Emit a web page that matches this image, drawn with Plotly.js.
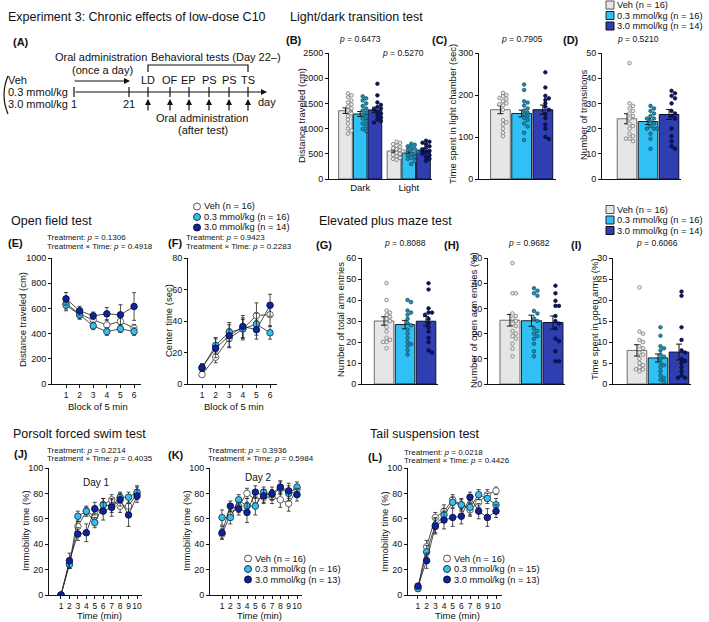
<!DOCTYPE html>
<html>
<head>
<meta charset="utf-8">
<script src="https://cdn.plot.ly/plotly-3.0.1.min.js"></script>
<style>
  html, body { margin: 0; padding: 0; background: #fff; }
  #chart { width: 709px; height: 622px; }
</style>
</head>
<body>
<div id="chart"></div>
<script>
// ---------- data ----------
const groupNames = ['Veh', '0.3 mmol/kg', '3.0 mmol/kg'];
const legendBars = ['Veh (n = 16)', '0.3 mmol/kg (n = 16)', '3.0 mmol/kg (n = 14)'];
const legendOF = ['Veh (n = 16)', '0.3 mmol/kg (n = 16)', '3.0 mmol/kg (n = 14)'];
const legendFS = ['Veh (n = 16)', '0.3 mmol/kg (n = 16)', '3.0 mmol/kg (n = 13)'];
const legendTS = ['Veh (n = 16)', '0.3 mmol/kg (n = 15)', '3.0 mmol/kg (n = 13)'];

// (B) light/dark distance
const ldPhases = ['Dark', 'Light'];
const ldDistDarkMean = [1356, 1290, 1370];
const ldDistDarkSem = [55, 48, 55];
const ldDistLightMean = [556, 515, 572];
const ldDistLightSem = [25, 22, 30];
const ldDarkVeh = [1700, 1660, 1620, 1560, 1520, 1480, 1440, 1400, 1360, 1300, 1250, 1180, 1100, 1000, 960, 900];
const ldDark03 = [1640, 1600, 1560, 1500, 1450, 1400, 1360, 1320, 1280, 1240, 1200, 1150, 1100, 1050, 990, 950];
const ldDark30 = [1890, 1660, 1520, 1470, 1430, 1400, 1380, 1340, 1300, 1260, 1220, 1180, 1150, 1120];
const ldLightVeh = [740, 720, 690, 660, 640, 610, 590, 570, 550, 520, 500, 480, 450, 420, 400, 380];
const ldLight03 = [700, 680, 650, 630, 600, 580, 560, 540, 510, 490, 470, 440, 420, 400, 360, 300];
const ldLight30 = [760, 740, 720, 690, 650, 620, 590, 560, 530, 500, 470, 440, 400, 360];

// (C) time in light chamber
const ldTimeMean = [165, 156, 165];
const ldTimeSem = [9.5, 8, 11];
const ldTimeVeh = [205, 200, 197, 193, 190, 185, 180, 178, 175, 165, 140, 135, 130, 120, 110, 102];
const ldTime03 = [225, 212, 185, 182, 175, 168, 163, 158, 155, 150, 145, 140, 132, 125, 110, 93];
const ldTime30 = [254, 218, 198, 192, 188, 180, 172, 165, 155, 145, 130, 120, 100, 95];

// (D) transitions
const ldTransMean = [23.9, 22.8, 25.6];
const ldTransSem = [2, 1.2, 2];
const ldTransVeh = [46, 30, 29, 28, 27, 26, 25, 24, 22, 21, 20, 18, 17, 16, 15, 16];
const ldTrans03 = [29, 28, 27, 26, 25, 24, 24, 23, 22, 21, 20, 20, 18, 20, 16, 12];
const ldTrans30 = [35, 34, 33, 32, 30, 27, 26, 25, 24, 20, 17, 15, 13, 12];

// (E) open field distance, (F) center time
const blocks = [1, 2, 3, 4, 5, 6];
const ofDistVeh = [640, 554, 509, 469, 496, 443];
const ofDist03 = [626, 549, 461, 416, 438, 416];
const ofDist30 = [676, 581, 541, 557, 549, 615];
const ofDistSemVeh = [45, 35, 30, 40, 45, 30];
const ofDistSem03 = [45, 35, 30, 30, 30, 30];
const ofDistSem30 = [50, 35, 30, 50, 80, 110];
const ofCenterVeh = [6, 17, 29, 35, 43.5, 44];
const ofCenter03 = [10, 24.5, 33, 35, 38, 32.5];
const ofCenter30 = [10.5, 22.7, 30.6, 36.5, 34.5, 50];
const ofCenterSemVeh = [1.5, 3.5, 6, 7, 8, 7];
const ofCenterSem03 = [2, 5, 6, 6, 7, 4];
const ofCenterSem30 = [2.5, 6, 7, 7, 6, 7];

// (G) total arm entries, (H) open arm entries %, (I) time in open arms %
const epTotalMean = [30, 28.3, 29.9];
const epTotalSem = [2, 2, 2.3];
const epTotalVeh = [48, 40, 35, 34, 33, 32, 31, 30, 29, 27, 25, 22, 21, 20, 20, 17];
const epTotal03 = [40, 39, 35, 34, 33, 31, 29, 28, 26, 24, 22, 20, 19, 18, 16, 14];
const epTotal30 = [48, 45, 36, 34, 34, 33, 31, 29, 27, 25, 22, 20, 16, 15];
const epOpenMean = [25.3, 25.1, 24.4];
const epOpenSem = [2.3, 2.2, 2.6];
const epOpenVeh = [48, 36, 36, 28, 27, 26, 25, 24, 23, 21, 20, 19, 18, 16, 14, 11];
const epOpen03 = [38, 37, 36, 35, 29, 28, 26, 25, 22, 21, 20, 19, 18, 16, 13, 11];
const epOpen30 = [39, 36, 33, 31, 31, 27, 25, 24, 22, 18, 17, 13, 9, 9];
const epTimeMean = [8.0, 6.2, 7.6];
const epTimeSem = [1.35, 0.95, 1.9];
const epTimeVeh = [23, 12.5, 12, 10.5, 10, 9, 8.5, 7.5, 7, 6, 5, 4.5, 4, 3.5, 3.5, 3];
const epTime03 = [13.5, 11.5, 9, 8.5, 8, 7, 6.5, 6, 5, 4.5, 4, 3, 2, 1.5, 1, 0.5];
const epTime30 = [22, 21, 13.5, 10.5, 8, 7.5, 6, 5.5, 5, 4, 3, 2, 1.5, 1.5];

// (J) forced swim day 1, (K) day 2, (L) tail suspension
const minutes = [1, 2, 3, 4, 5, 6, 7, 8, 9, 10];
const fs1Veh = [0, 25, 54, 66, 62, 71, 75, 70, 70, 80];
const fs103 = [0, 24, 62, 66, 57, 71, 70, 77, 77, 81];
const fs130 = [0, 27, 48, 49, 68, 66, 69, 75, 63, 78];
const fs1SemVeh = [0, 4, 4, 4, 5, 5, 4, 5, 6, 5];
const fs1Sem03 = [0, 3, 4, 3, 4, 5, 5, 4, 4, 5];
const fs1Sem30 = [0, 6, 5, 7, 5, 7, 7, 5, 9, 5];
const fs2Veh = [48, 63, 70, 80, 75, 77, 77, 75, 72, 83];
const fs203 = [61, 61, 75, 70, 70, 81, 79, 84, 80, 85];
const fs230 = [49, 70, 68, 65, 81, 78, 80, 85, 82, 79];
const fs2SemVeh = [4, 4, 5, 4, 5, 5, 5, 6, 6, 4];
const fs2Sem03 = [6, 5, 4, 6, 7, 4, 4, 5, 6, 4];
const fs2Sem30 = [5, 4, 5, 8, 5, 5, 5, 5, 6, 5];
const tsVeh = [6, 38, 61, 66, 75, 71, 67, 73, 79, 82];
const ts03 = [5, 34, 55, 63, 73, 71, 69, 79, 76, 71];
const ts30 = [7, 27, 54, 59, 61, 62, 77, 66, 61, 66];
const tsSemVeh = [2, 5, 4, 5, 4, 4, 5, 4, 4, 3];
const tsSem03 = [2, 5, 6, 5, 4, 5, 6, 4, 4, 5];
const tsSem30 = [2, 6, 6, 7, 7, 6, 4, 6, 7, 5];

// ---------- drawing ----------
const W = 709, H = 622;
const FONT = '"Liberation Sans", Arial, sans-serif';
const px = x => x / W;
const py = y => 1 - y / H;

const barFill = ['#e6e6e6', '#30c0f4', '#2f3fb2'];
const barEdge = ['#6f6f6f', '#1d1d1d', '#101030'];
const dotFill = ['#ececec', '#1f8db0', '#0b1660'];
const dotEdge = ['#6a6a6a', '#0c4a60', '#050a30'];
const lineFill = ['#ffffff', '#35c0f0', '#10239a'];
const lineEdge = ['#555555', '#1a3a4a', '#0a0f40'];

const traces = [];
const annotations = [];
const shapes = [];
const layout = {
  width: W, height: H, autosize: false,
  margin: {l: 0, r: 0, t: 0, b: 0},
  paper_bgcolor: '#fff', plot_bgcolor: 'rgba(0,0,0,0)',
  font: {family: FONT, color: '#111', size: 9},
  showlegend: false, barmode: 'overlay',
  annotations: annotations, shapes: shapes
};

const baseAxis = {
  showline: true, linecolor: '#111', linewidth: 1,
  ticks: 'outside', ticklen: 3, tickwidth: 1, tickcolor: '#111',
  tickfont: {size: 9, family: FONT, color: '#111'},
  showgrid: false, zeroline: false, fixedrange: true
};

function sfx(i) { return i === 1 ? '' : String(i); }

function setAxes(i, xbox, ybox, xopts, yopts) {
  layout['xaxis' + sfx(i)] = Object.assign({}, baseAxis,
    {domain: [px(xbox[0]), px(xbox[1])], anchor: 'y' + sfx(i)}, xopts);
  layout['yaxis' + sfx(i)] = Object.assign({}, baseAxis,
    {domain: [py(ybox[1]), py(ybox[0])], anchor: 'x' + sfx(i)}, yopts);
}

// simple beeswarm: points that would overlap shift to the next slot
function swarm(vals, center, ppuX, ppuY) {
  const slotsPx = [2.5, 6, -1, 9, -4];
  const placed = [];
  const xs = new Array(vals.length);
  const order = vals.map((v, k) => k).sort((a, b) => vals[b] - vals[a]);
  order.forEach(k => {
    let s = 0;
    while (s < slotsPx.length - 1 &&
      placed.some(p => p.slot === s && Math.abs(p.y - vals[k]) * ppuY < 3.2)) s++;
    placed.push({y: vals[k], slot: s});
    xs[k] = center + slotsPx[s] / ppuX;
  });
  return xs;
}

function addBars(i, centers, means, sems, dotSets, ppuX, ppuY) {
  for (let g = 0; g < 3; g++) {
    traces.push({
      type: 'bar', x: [centers[g]], y: [means[g]], width: 0.93,
      xaxis: 'x' + sfx(i), yaxis: 'y' + sfx(i), hoverinfo: 'skip',
      marker: {color: barFill[g], line: {color: barEdge[g], width: 1}},
      error_y: {type: 'data', array: [sems[g]], color: '#111', thickness: 1, width: 3}
    });
  }
  for (let g = 0; g < 3; g++) {
    traces.push({
      type: 'scatter', mode: 'markers',
      x: swarm(dotSets[g], centers[g], ppuX, ppuY), y: dotSets[g],
      xaxis: 'x' + sfx(i), yaxis: 'y' + sfx(i), hoverinfo: 'skip',
      marker: {size: 3.6, color: dotFill[g], line: {color: dotEdge[g], width: 0.7}}
    });
  }
}

function addLines(i, xs, series, sems) {
  for (let g = 0; g < 3; g++) {
    traces.push({
      type: 'scatter', mode: 'lines+markers', x: xs, y: series[g],
      xaxis: 'x' + sfx(i), yaxis: 'y' + sfx(i), hoverinfo: 'skip',
      line: {color: '#222', width: 0.8},
      marker: {size: 6.5, color: lineFill[g], line: {color: lineEdge[g], width: 0.9}},
      error_y: {type: 'data', array: sems[g], color: '#222', thickness: 0.8, width: 2}
    });
  }
}

function text(x, y, t, size, anchor, extra) {
  annotations.push(Object.assign({
    xref: 'paper', yref: 'paper', x: px(x), y: py(y), text: t,
    showarrow: false, xanchor: anchor || 'left', yanchor: 'middle', borderpad: 0,
    font: {size: size, family: FONT, color: '#111'}
  }, extra || {}));
}
function vtitle(x, y, t) { text(x, y, t, 9.5, 'center', {textangle: -90}); }
function arrow(hx, hy, dx, dy) {
  annotations.push({
    xref: 'paper', yref: 'paper', x: px(hx), y: py(hy), text: '',
    showarrow: true, ax: dx, ay: dy, arrowhead: 2, arrowsize: 1,
    arrowwidth: 1.2, arrowcolor: '#111', standoff: 0
  });
}
function seg(x0, y0, x1, y1, w) {
  shapes.push({type: 'line', xref: 'paper', yref: 'paper',
    x0: px(x0), y0: py(y0), x1: px(x1), y1: py(y1),
    line: {color: '#111', width: w || 1.2}});
}
function legendBlock(cx, rows, kind, fills, edges, labels) {
  rows.forEach((ry, g) => {
    const r = kind === 'rect' ? 4 : 3.5;
    shapes.push({type: kind, xref: 'paper', yref: 'paper',
      x0: px(cx - r), x1: px(cx + r), y0: py(ry + r), y1: py(ry - r),
      fillcolor: fills[g], line: {color: edges[g], width: 1}});
    text(cx + 6, ry, labels[g], 9.3, 'left');
  });
}

// ----- (B) distance traveled: Dark / Light -----
setAxes(1, [329, 432], [53, 179],
  {range: [-1.12, 5.88], ticks: '', tickvals: [1, 4.3], ticktext: ldPhases,
   tickfont: {size: 9.5, family: FONT, color: '#111'}},
  {range: [0, 2500], dtick: 500});
addBars(1, [0, 1, 2], ldDistDarkMean, ldDistDarkSem, [ldDarkVeh, ldDark03, ldDark30], 14.7, 126 / 2500);
addBars(1, [3.3, 4.3, 5.3], ldDistLightMean, ldDistLightSem, [ldLightVeh, ldLight03, ldLight30], 14.7, 126 / 2500);

// ----- (C) time in light chamber -----
setAxes(2, [479, 556], [53, 179], {range: [-1.01, 2.62], ticks: '', showticklabels: false},
  {range: [0, 300], dtick: 100});
addBars(2, [0, 1, 2], ldTimeMean, ldTimeSem, [ldTimeVeh, ldTime03, ldTime30], 21.2, 126 / 300);

// ----- (D) transitions -----
setAxes(3, [602, 681], [53, 179], {range: [-1.19, 2.57], ticks: '', showticklabels: false},
  {range: [0, 50], dtick: 10});
addBars(3, [0, 1, 2], ldTransMean, ldTransSem, [ldTransVeh, ldTrans03, ldTrans30], 21, 126 / 50);

// ----- (E) open field distance -----
const blockAxis = {tickvals: blocks, tickfont: {size: 8.5, family: FONT, color: '#111'}};
setAxes(4, [52, 141], [258, 384], Object.assign({range: [-0.03, 6.51]}, blockAxis),
  {range: [0, 1000], dtick: 200});
addLines(4, blocks, [ofDistVeh, ofDist03, ofDist30], [ofDistSemVeh, ofDistSem03, ofDistSem30]);

// ----- (F) center time -----
setAxes(5, [188, 277], [258, 384], Object.assign({range: [-0.03, 6.51]}, blockAxis),
  {range: [0, 80], dtick: 20});
addLines(5, blocks, [ofCenterVeh, ofCenter03, ofCenter30], [ofCenterSemVeh, ofCenterSem03, ofCenterSem30]);

// ----- (G) total arm entries -----
setAxes(6, [362, 438], [258, 384], {range: [-1.05, 2.57], ticks: '', showticklabels: false},
  {range: [0, 60], dtick: 10});
addBars(6, [0, 1, 2], epTotalMean, epTotalSem, [epTotalVeh, epTotal03, epTotal30], 21, 126 / 60);

// ----- (H) open arm entries -----
setAxes(7, [488, 565], [258, 384], {range: [-1.02, 2.56], ticks: '', showticklabels: false},
  {range: [0, 50], dtick: 10});
addBars(7, [0, 1, 2], epOpenMean, epOpenSem, [epOpenVeh, epOpen03, epOpen30], 21.5, 126 / 50);

// ----- (I) time in open arms -----
setAxes(8, [613, 691], [258, 384], {range: [-1.14, 2.57], ticks: '', showticklabels: false},
  {range: [0, 30], dtick: 5});
addBars(8, [0, 1, 2], epTimeMean, epTimeSem, [epTimeVeh, epTime03, epTime30], 21, 126 / 30);

// ----- (J) (K) (L) immobility -----
const minuteAxis = {tickvals: minutes, tickangle: 0, tickfont: {size: 8.5, family: FONT, color: '#111'}};
setAxes(9, [49, 142], [468, 595], Object.assign({range: [-0.42, 10.59]}, minuteAxis),
  {range: [0, 100], dtick: 20});
addLines(9, minutes, [fs1Veh, fs103, fs130], [fs1SemVeh, fs1Sem03, fs1Sem30]);
setAxes(10, [210, 302], [468, 595], Object.assign({range: [-0.44, 10.6]}, minuteAxis),
  {range: [0, 100], dtick: 20});
addLines(10, minutes, [fs2Veh, fs203, fs230], [fs2SemVeh, fs2Sem03, fs2Sem30]);
setAxes(11, [408, 502], [468, 595], Object.assign({range: [-0.15, 10.69]}, minuteAxis),
  {range: [0, 100], dtick: 20});
addLines(11, minutes, [tsVeh, ts03, ts30], [tsSemVeh, tsSem03, tsSem30]);

// ----- titles and labels -----
text(7, 17, 'Experiment 3: Chronic effects of low-dose C10', 12.5);
text(289, 17, 'Light/dark transition test', 12.5);
text(10, 221, 'Open field test', 12.5);
text(318, 221, 'Elevated plus maze test', 12.5);
text(12, 434, 'Porsolt forced swim test', 12.5);
text(369, 434, 'Tail suspension test', 12.5);

[['(A)', 12, 42], ['(B)', 285, 40], ['(C)', 431, 40], ['(D)', 562, 40],
 ['(E)', 7, 243], ['(F)', 167, 243], ['(G)', 315, 245], ['(H)', 443, 245], ['(I)', 570, 245],
 ['(J)', 13, 454], ['(K)', 167, 455], ['(L)', 367, 457]].forEach(l => text(l[1], l[2], '<b>' + l[0] + '</b>', 11));

const pv = v => '<i>p</i> = ' + v;
text(360, 39, pv('0.6473'), 8.5, 'center');
text(403, 53, pv('0.5270'), 8.5, 'center');
text(522, 39, pv('0.7905'), 8.5, 'center');
text(638, 39, pv('0.5210'), 8.5, 'center');
text(405, 243, pv('0.8088'), 8.5, 'center');
text(529, 243, pv('0.9682'), 8.5, 'center');
text(657, 243, pv('0.6066'), 8.5, 'center');

function treat(x, y, a, b) {
  text(x, y, 'Treatment: ' + pv(a), 8);
  text(x, y + 8.5, 'Treatment × Time: ' + pv(b), 8);
}
treat(46, 238, '0.1306', '0.4918');
treat(185, 238, '0.9423', '0.2283');
treat(46, 450, '0.2214', '0.4035');
treat(207, 450, '0.3936', '0.5984');
treat(403, 452, '0.0218', '0.4426');

vtitle(301, 116, 'Distance traveled (cm)');
vtitle(453, 114, 'Time spent in light chamber (sec)');
vtitle(583, 115, 'Number of transitions');
vtitle(22, 320, 'Distance traveled (cm)');
vtitle(169, 321, 'Center time (sec)');
vtitle(340, 320, 'Number of total arm entries');
vtitle(473, 320, 'Number of open arm entries (%)');
vtitle(594, 319, 'Time spent in open arms (%)');
vtitle(25, 531, 'Immobility time (%)');
vtitle(186, 531, 'Immobility time (%)');
vtitle(384, 532, 'Immobility time (%)');

text(98, 406, 'Block of 5 min', 9.5, 'center');
text(234, 406, 'Block of 5 min', 9.5, 'center');
text(99, 615, 'Time (min)', 9.5, 'center');
text(259, 615, 'Time (min)', 9.5, 'center');
text(457, 615, 'Time (min)', 9.5, 'center');
text(96, 482, 'Day 1', 10, 'center');
text(258, 477, 'Day 2', 10, 'center');

// ----- legends -----
legendBlock(610, [5, 15.5, 26], 'rect', barFill, ['#555', '#222', '#111'], legendBars);
legendBlock(197, [206.5, 217, 227.5], 'circle', lineFill, lineEdge, legendOF);
legendBlock(610, [209.5, 220, 230.5], 'rect', barFill, ['#555', '#222', '#111'], legendBars);
legendBlock(248, [558.5, 569, 579.5], 'circle', lineFill, lineEdge, legendFS);
legendBlock(447, [558.5, 569, 579.5], 'circle', lineFill, lineEdge, legendTS);

// ----- (A) schedule diagram -----
text(101, 57, 'Oral administration', 11, 'center');
text(102, 70, '(once a day)', 11, 'center');
text(216, 57, 'Behavioral tests (Day 22–)', 11, 'center');
text(7, 80, groupNames[0], 11);
text(7, 92, groupNames[1], 11);
text(7, 104, groupNames[2], 11);
text(74, 104, '1', 11, 'center');
text(129, 104, '21', 11, 'center');
const testDays = [148, 170, 189, 209, 229, 248];
['LD', 'OF', 'EP', 'PS', 'PS', 'TS'].forEach((t, k) => text(testDays[k], 80, t, 11, 'center'));
text(257, 102, 'day', 11);
text(202, 118, 'Oral administration', 11, 'center');
text(203, 130, '(after test)', 11, 'center');
arrow(267, 92, -193, 0);
arrow(130, 81, -57, 0);
[74, 129].concat(testDays).forEach(x => seg(x, 87, x, 97, 1.2));
testDays.forEach(x => arrow(x, 99, 0, 13));
shapes.push({type: 'path', xref: 'paper', yref: 'paper',
  path: 'M' + px(148) + ',' + py(72) + ' L' + px(148) + ',' + py(65) +
        ' L' + px(248) + ',' + py(65) + ' L' + px(248) + ',' + py(72),
  line: {color: '#111', width: 1.2}});
shapes.push({type: 'path', xref: 'paper', yref: 'paper',
  path: 'M' + px(8) + ',' + py(76) + ' Q' + px(0) + ',' + py(95) + ' ' + px(8) + ',' + py(114),
  line: {color: '#111', width: 1.2}});

Plotly.newPlot('chart', traces, layout, {displayModeBar: false, staticPlot: true});
</script>
</body>
</html>
